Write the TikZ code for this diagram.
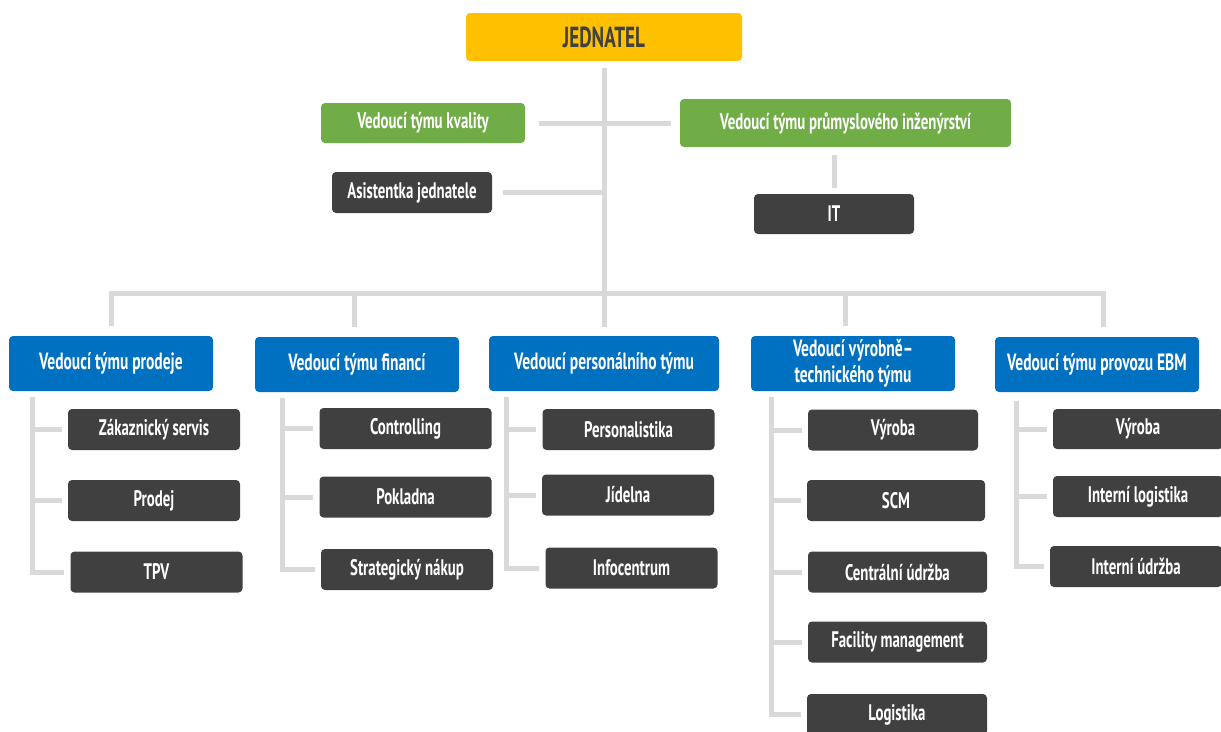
\documentclass[tikz,border=0pt]{standalone}
\usepackage{fontspec}
\setmainfont{PT Sans}[FakeStretch=0.66]
\definecolor{gold}{HTML}{FFC000}
\definecolor{leafgreen}{HTML}{70AD47}
\definecolor{teamblue}{HTML}{0070C0}
\definecolor{darkbox}{HTML}{404040}
\definecolor{linkgray}{HTML}{D9D9D9}
\begin{document}
\begin{tikzpicture}[
        x=1pt, y=-1pt,
        box/.style={rounded corners=4pt, inner sep=0pt, align=center, font=\fontsize{22.5}{24}\selectfont\bfseries, text=white},
        boss/.style={box, fill=gold, text=darkbox, minimum width=276pt, minimum height=48pt, font=\fontsize{29}{31}\selectfont\bfseries},
        staff/.style={box, fill=leafgreen},
        team/.style={box, fill=teamblue, minimum width=204pt, minimum height=55pt, font=\fontsize{23.5}{26}\selectfont\bfseries},
        unit/.style={box, fill=darkbox, minimum width=172pt, minimum height=41pt},
        link/.style={draw=linkgray, line width=5pt}
    ]
        \useasboundingbox (0,0) rectangle (1221,731);
        \clip (0,0) rectangle (1221,731);

        % === Top ===
        \node[boss] (jed) at (604,37) {JEDNATEL};
        \node[staff, minimum width=204pt, minimum height=40pt] (kval) at (423,123) {Vedoucí týmu kvality};
        \node[staff, minimum width=331pt, minimum height=48pt] (prum) at (845.5,123) {Vedoucí týmu průmyslového inženýrství};
        \node[unit, minimum width=160pt] (asis) at (412,192.5) {Asistentka jednatele};
        \node[unit, minimum width=160pt, minimum height=40pt] (it) at (834,214) {IT};
        \draw[link] ([xshift=14]kval.east) -- ([xshift=-9]prum.west);
        \draw[link] ([xshift=11]asis.east) -- (asis.east -| jed.south);
        \draw[link] (it.north |- prum.south) ++(0,8) -- ([yshift=6]it.north);

        % === Teams ===
        \node[team] (prod) at (111,363.5) {Vedoucí týmu prodeje};
        \node[team] (fin) at (357,364.5) {Vedoucí týmu financí};
        \node[team, minimum width=230pt] (pers) at (604,363.5) {Vedoucí personálního týmu};
        \node[team] (vyr) at (853,363.5) {Vedoucí výrobně–\\technického týmu};
        \node[team] (ebm) at (1097,364.5) {Vedoucí týmu provozu EBM};
        \coordinate (bus) at (604,293);
        \draw[link] ([yshift=-7]jed.south) -- ([yshift=9]pers.north);
        \draw[link] ([yshift=10]prod.north) |- (bus) -| ([xshift=6,yshift=10]ebm.north);
        \draw[link] (bus -| 354,0) -- ([xshift=-3,yshift=10]fin.north);
        \draw[link] (bus -| 845,0) -- ([xshift=-8,yshift=10]vyr.north);

        % === Prodej ===
        \node[unit] (zak) at (154,429.5) {Zákaznický servis};
        \node[unit] (prodej) at (154,500.5) {Prodej};
        \node[unit] (tpv) at (156.5,572) {TPV};
        \draw[link] ([xshift=24,yshift=-6]prod.south west) |- ([xshift=-6]tpv.west);
        \coordinate (prodv) at ([xshift=24]prod.south west);
        \foreach \c in {zak,prodej}
            \draw[link] (prodv |- \c.west) -- ([xshift=-6]\c.west);

        % === Finance ===
        \node[unit] (ctrl) at (405.5,428.5) {Controlling};
        \node[unit] (pokl) at (405.5,497) {Pokladna};
        \node[unit] (nakup) at (407,569.5) {Strategický nákup};
        \draw[link] ([xshift=28,yshift=-6]fin.south west) |- ([xshift=-6]nakup.west);
        \coordinate (finv) at ([xshift=28]fin.south west);
        \foreach \c in {ctrl,pokl}
            \draw[link] (finv |- \c.west) -- ([xshift=-6]\c.west);

        % === Personal ===
        \node[unit] (perso) at (628.5,429.5) {Personalistika};
        \node[unit] (jid) at (628,495) {Jídelna};
        \node[unit] (info) at (631.5,568) {Infocentrum};
        \draw[link] ([xshift=18,yshift=-6]pers.south west) |- ([xshift=-6]info.west);
        \coordinate (persv) at ([xshift=18]pers.south west);
        \foreach \c in {perso,jid}
            \draw[link] (persv |- \c.west) -- ([xshift=-6]\c.west);

        % === Vyroba ===
        \node[unit, minimum width=170pt] (vyroba) at (893,430) {Výroba};
        \node[unit, minimum width=178pt] (scm) at (896,500.5) {SCM};
        \node[unit, minimum width=179pt] (cent) at (897.5,572) {Centrální údržba};
        \node[unit, minimum width=179pt] (facil) at (897.5,642) {Facility management};
        \node[unit, minimum width=180pt] (logi) at (897,714.5) {Logistika};
        \draw[link] ([xshift=21,yshift=-6]vyr.south west) |- ([xshift=-6]logi.west);
        \coordinate (vyrv) at ([xshift=21]vyr.south west);
        \foreach \c in {vyroba,scm,cent,facil}
            \draw[link] (vyrv |- \c.west) -- ([xshift=-6]\c.west);

        % === EBM ===
        \node[unit, minimum width=170pt, minimum height=40pt] (ebmvyr) at (1138,429) {Výroba};
        \node[unit, minimum width=170pt] (intlog) at (1138,496.5) {Interní logistika};
        \node[unit] (intudr) at (1136,566.5) {Interní údržba};
        \draw[link] ([xshift=22,yshift=-9]ebm.south west) |- ([xshift=-6]intudr.west);
        \coordinate (ebmv) at ([xshift=22]ebm.south west);
        \foreach \c in {ebmvyr,intlog}
            \draw[link] (ebmv |- \c.west) -- ([xshift=-6]\c.west);
    \end{tikzpicture}
\end{document}
